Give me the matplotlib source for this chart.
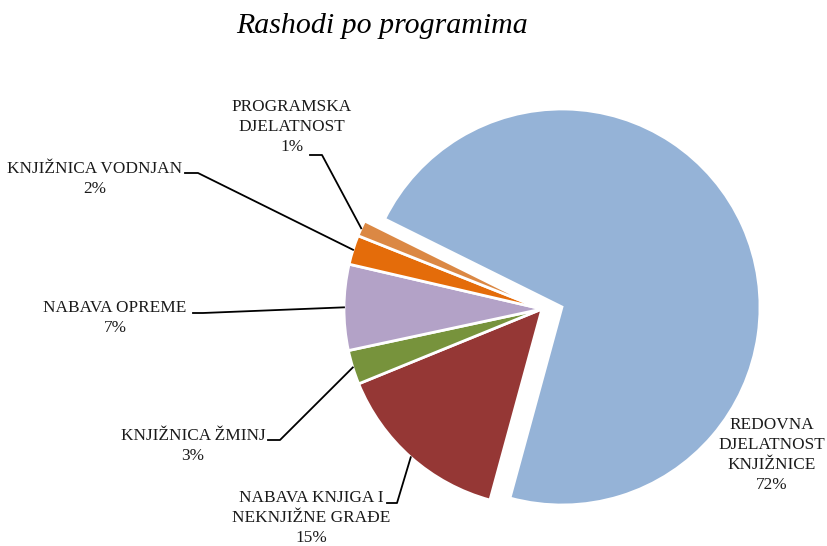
import matplotlib
matplotlib.use('Agg')
import matplotlib.pyplot as plt
import numpy as np

plt.rcParams['font.family'] = ['Liberation Serif', 'DejaVu Serif']

# podaci
labels = ['REDOVNA\nDJELATNOST\nKNJIŽNICE', 'NABAVA KNJIGA I\nNEKNJIŽNE GRAĐE', 'KNJIŽNICA ŽMINJ',
          'NABAVA OPREME', 'KNJIŽNICA VODNJAN', 'PROGRAMSKA\nDJELATNOST']
values = [71.9, 14.6, 2.8, 7.0, 2.4, 1.3]
colors = ['#95B3D7', '#953735', '#77933C', '#B3A2C7', '#E46C0A', '#DB8844']

W, H = 827, 546
fig = plt.figure(figsize=(W / 100, H / 100), dpi=100)
ax = fig.add_axes([0, 0, 1, 1])

cx, cy, r = 542, H - 309, 198
wedges, _ = ax.pie(values, colors=colors, startangle=153.6, counterclock=False,
                   radius=r, center=(cx, cy),
                   wedgeprops=dict(edgecolor='white', linewidth=2))
# izvuceni isjecak (kao u Excelu)
wedges[0].set_center((cx + 20, cy + 2))
ax.set_xlim(0, W)
ax.set_ylim(0, H)
ax.set_aspect('equal')
ax.axis('off')

# polozaj oznaka (x, y sredine teksta) i pocetak linije (x0, x1, y) - u pikselima slike
lab_pos = [(772, 455, None),
           (311, 518, (387, 397, 503)),
           (193, 446, (268, 280, 440)),
           (115, 318, (193, 203, 313)),
           (95, 179, (185, 198, 173)),
           (292, 127, (310, 322, 155))]

for w, lab, v, (tx, ty, lead) in zip(wedges, labels, values, lab_pos):
    ax.text(tx, H - ty, f'{lab}\n{round(v)}%', ha='center', va='center', fontsize=12.4,
            linespacing=1.34, color='#1a1a1a')
    if lead is not None:
        ang = np.deg2rad((w.theta1 + w.theta2) / 2)
        ex = w.center[0] + w.r * np.cos(ang)
        ey = w.center[1] + w.r * np.sin(ang)
        x0, x1, y = lead
        ax.plot([x0, x1, ex], [H - y, H - y, ey], color='black', lw=1.3)

ax.text(382, H - 26, 'Rashodi po programima', ha='center', va='center', fontsize=21.5,
        style='italic')

fig.savefig('out.png', dpi=100)
